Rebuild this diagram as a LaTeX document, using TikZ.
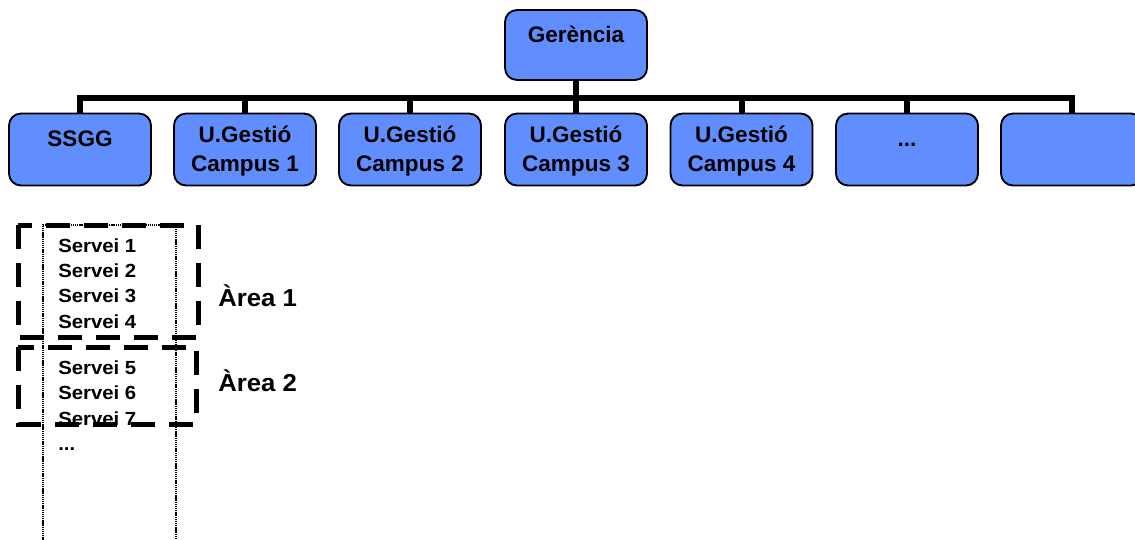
\documentclass[tikz,border=0pt]{standalone}
\usepackage{fontspec}
\setmainfont{Liberation Sans}
\newfontfamily\servfont{Liberation Sans}[FakeStretch=1.07]
\newfontfamily\areafont{Liberation Sans}[FakeStretch=1.05]
\definecolor{boxblue}{RGB}{97,142,255}
\tikzset{
  orgbox/.style={draw=black, line width=1.4pt, fill=boxblue, rounded corners=9pt,
    minimum width=106.5pt, minimum height=54pt, inner sep=0pt},
  boxtext/.style={font=\bfseries\fontsize{16.9}{21.75}\selectfont, anchor=base, inner sep=0pt},
  bar/.style={line width=4.5pt, line join=miter},
  areabox/.style={line width=3.75pt, dash pattern=on 18pt off 10.5pt},
  colbox/.style={line width=1.1pt, dash pattern=on 1pt off 0.6pt},
  servtext/.style={font=\servfont\bfseries\fontsize{14.25}{19}\selectfont, anchor=base west, inner sep=0pt},
  areatext/.style={font=\areafont\bfseries\fontsize{18.4}{22}\selectfont, anchor=base west, inner sep=0pt},
}
\begin{document}
\begin{tikzpicture}[x=0.75pt,y=-0.75pt]
\useasboundingbox (0,0) rectangle (1135,539);
\clip (0,0) rectangle (1135,539);
% boxes
\node[orgbox, minimum height=52.5pt] (ger) at (576,45) {};
\node[orgbox] (ssgg) at (80,149.5) {};
\node[orgbox] (u1) at (245,149.5) {};
\node[orgbox] (u2) at (410,149.5) {};
\node[orgbox] (u3) at (576,149.5) {};
\node[orgbox] (u4) at (741.5,149.5) {};
\node[orgbox] (dots) at (907,149.5) {};
\node[orgbox] (b7) at (1072,149.5) {};
% box texts
\node[boxtext] (gert) at (576,42) {Gerència};
\node[boxtext] (ssggt) at (80,146) {SSGG};
\node[boxtext] (u1t) at (245,142) {\begin{tabular}[t]{@{}c@{}}U.Gestió\\Campus 1\end{tabular}};
\node[boxtext] (u2t) at (410,142) {\begin{tabular}[t]{@{}c@{}}U.Gestió\\Campus 2\end{tabular}};
\node[boxtext] (u3t) at (576,142) {\begin{tabular}[t]{@{}c@{}}U.Gestió\\Campus 3\end{tabular}};
\node[boxtext] (u4t) at (741.5,142) {\begin{tabular}[t]{@{}c@{}}U.Gestió\\Campus 4\end{tabular}};
\node[boxtext] (dotst) at (907,146) {...};
% connectors
\coordinate (bus) at (576,98);
\draw[bar] (ssgg.north) -- (ssgg.north |- bus) -- (b7.north |- bus) -- (b7.north);
\foreach \n in {u1,u2,u3,u4,dots} \draw[bar] (\n.north) -- (\n.north |- bus);
\draw[bar] (ger.south) -- (ger.south |- bus);
% service column and areas
\draw[colbox] (43,545) -- (43,225) -- (176,225) -- (176,545);
\draw[areabox] (18,225) rectangle (198,337);
\draw[areabox] (18,347) rectangle (196,424);
\node[servtext] (sv1) at (58,252) {\begin{tabular}[t]{@{}l@{}}Servei 1\\Servei 2\\Servei 3\\Servei 4\end{tabular}};
\node[servtext] (sv2) at (58,374.5) {\begin{tabular}[t]{@{}l@{}}Servei 5\\Servei 6\\Servei 7\\...\end{tabular}};
\node[areatext] (a1) at (218,306) {Àrea 1};
\node[areatext] (a2) at (218,391) {Àrea 2};
\end{tikzpicture}
\end{document}
